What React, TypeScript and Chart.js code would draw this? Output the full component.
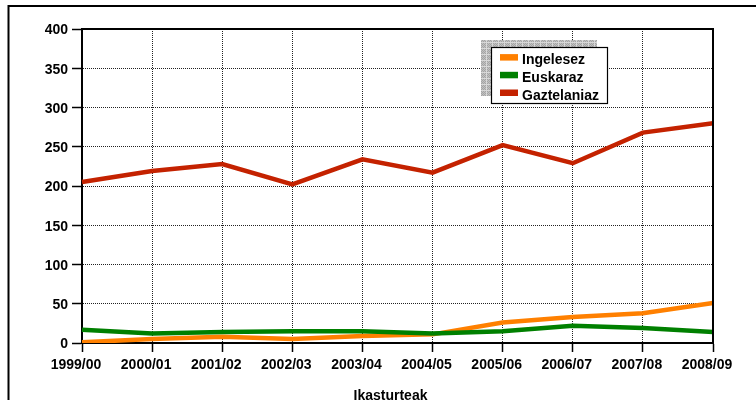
import React, { useEffect, useRef } from "react";
import { Chart, registerables } from "chart.js";

Chart.register(...registerables);

const categories = ["1999/00", "2000/01", "2001/02", "2002/03", "2003/04", "2004/05", "2005/06", "2006/07", "2007/08", "2008/09"];
const ingelesez = [1, 5, 8, 5, 9, 11, 26, 33, 38, 51];
const euskaraz = [17, 12, 14, 15, 15, 12, 15, 22, 19, 14];
const gaztelaniaz = [205, 219, 228, 202, 234, 217, 252, 229, 268, 280];
const seriesNames = ["Ingelesez", "Euskaraz", "Gaztelaniaz"];
const seriesColors = ["#ff8000", "#008000", "#c42200"];
const xTitle = "Ikasturteak";
const yMin = 0;
const yMax = 400;
const yStep = 50;

const FONT = '"Liberation Sans", Arial, sans-serif';

function makeShadowPattern(ctx: CanvasRenderingContext2D) {
  const c = document.createElement("canvas");
  c.width = 6;
  c.height = 6;
  const p = c.getContext("2d")!;
  p.fillStyle = "#c2c2c2";
  p.fillRect(0, 0, 6, 6);
  p.fillStyle = "#a4a4a4";
  for (let y = 0; y < 6; y++) {
    for (let x = 0; x < 6; x++) {
      if ((x + y) % 2 === 0) p.fillRect(x, y, 1, 1);
    }
  }
  p.fillStyle = "#d8d8d8";
  p.fillRect(0, 0, 6, 1);
  p.fillRect(0, 0, 1, 6);
  return ctx.createPattern(c, "repeat");
}

const decorPlugin = {
  id: "decor",
  afterDraw(chart: any) {
    const ctx: CanvasRenderingContext2D = chart.ctx;
    const a = chart.chartArea;
    ctx.save();
    // outer frame
    ctx.strokeStyle = "#000";
    ctx.lineWidth = 2;
    ctx.strokeRect(8.5, 6, 900, 600);
    // plot frame (top and right)
    ctx.beginPath();
    ctx.moveTo(a.left, a.top);
    ctx.lineTo(a.right, a.top);
    ctx.lineTo(a.right, a.bottom);
    ctx.stroke();

    // legend
    const bx = 491, by = 47, bw = 116, bh = 56;
    const pat = makeShadowPattern(ctx);
    if (pat) {
      ctx.fillStyle = pat;
      ctx.fillRect(bx - 10, by - 7, bw, bh);
    }
    ctx.fillStyle = "#fff";
    ctx.fillRect(bx, by, bw, bh);
    ctx.strokeStyle = "#000";
    ctx.lineWidth = 1.2;
    ctx.strokeRect(bx + 0.5, by + 0.5, bw, bh);
    ctx.font = "bold 14px " + FONT;
    ctx.textBaseline = "alphabetic";
    ctx.textAlign = "left";
    chart.data.datasets.forEach((ds: any, i: number) => {
      const cy = 57.3 + i * 17.7;
      ctx.fillStyle = ds.borderColor;
      ctx.fillRect(500, cy - 3.2, 18, 6.5);
      ctx.fillStyle = "#000";
      ctx.fillText(ds.label, 522, cy + 6.8);
    });

    // x axis title
    ctx.font = "bold 14px " + FONT;
    ctx.textAlign = "center";
    ctx.fillStyle = "#000";
    ctx.fillText(xTitle, (a.left + a.right) / 2 - 7, 399.5);
    ctx.restore();
  },
};

export default function App() {
  const ref = useRef<HTMLCanvasElement>(null);
  useEffect(() => {
    document.body.style.margin = "0";
    const values = [ingelesez, euskaraz, gaztelaniaz];
    const orders = [1, 0, 2];
    const chart = new Chart(ref.current!, {
      type: "line",
      data: {
        labels: categories,
        datasets: seriesNames.map((name, i) => ({
          label: name,
          data: values[i],
          borderColor: seriesColors[i],
          backgroundColor: seriesColors[i],
          borderWidth: 4.5,
          pointRadius: 0,
          tension: 0,
          fill: false,
          order: orders[i],
          borderJoinStyle: "miter" as const,
        })),
      },
      options: {
        animation: false,
        responsive: false,
        maintainAspectRatio: false,
        layout: { padding: { top: 29, right: 43, left: 0, bottom: 0 } },
        plugins: {
          legend: { display: false },
          tooltip: { enabled: false },
          title: { display: false },
        },
        scales: {
          x: {
            type: "category",
            offset: false,
            grid: {
              color: "#222",
              lineWidth: 1,
              tickLength: 9,
              tickColor: "#000",
              tickWidth: 1.5,
              tickBorderDash: [],
            },
            border: { display: true, color: "#000", width: 2, dash: [1, 1] },
            ticks: {
              color: "#000",
              font: { family: FONT, size: 14, weight: "bold" },
              padding: 5,
              labelOffset: -6,
              maxRotation: 0,
              autoSkip: false,
            },
            afterFit: (s: any) => {
              s.height = 57;
            },
          },
          y: {
            min: yMin,
            max: yMax,
            grid: {
              color: "#222",
              lineWidth: 1,
              tickLength: 10,
              tickColor: "#000",
              tickWidth: 1.5,
              tickBorderDash: [],
            },
            border: { display: true, color: "#000", width: 2, dash: [1, 1] },
            ticks: {
              stepSize: yStep,
              color: "#000",
              font: { family: FONT, size: 14, weight: "bold" },
              padding: 4,
              labelOffset: 1.5,
            },
            afterFit: (s: any) => {
              s.width = 82;
            },
          },
        },
      },
      plugins: [decorPlugin],
    } as any);
    return () => chart.destroy();
  }, []);
  return (
    <div style={{ position: "fixed", left: 0, top: 0, width: 756, height: 400, overflow: "hidden", background: "#fff" }}>
      <canvas ref={ref} width={756} height={400} style={{ width: 756, height: 400, display: "block" }} />
    </div>
  );
}
